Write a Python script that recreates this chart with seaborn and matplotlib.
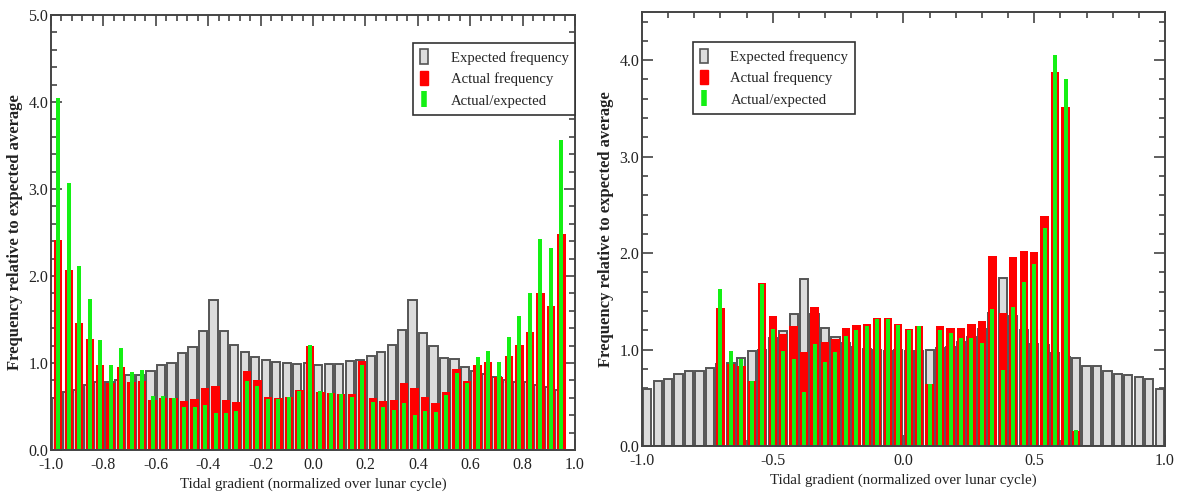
import numpy as np
import pandas as pd
import seaborn as sns
import matplotlib.pyplot as plt
from matplotlib.patches import Patch
from matplotlib.lines import Line2D
from matplotlib.ticker import MultipleLocator

sns.set_style("ticks")
plt.rcParams['font.family'] = ['Liberation Serif', 'DejaVu Serif']

# bin centres of the tidal gradient histogram (width 0.04)
bins = np.round(np.arange(-0.98, 1.0, 0.04), 2)

left_expected = [0.60, 0.67, 0.69, 0.745, 0.78, 0.78, 0.81, 0.86, 0.86, 0.91,
                 0.98, 1.00, 1.12, 1.18, 1.37, 1.72, 1.37, 1.21, 1.13, 1.07,
                 1.03, 1.01, 1.00, 0.99, 1.00, 0.98, 0.99, 0.99, 1.02, 1.03,
                 1.08, 1.13, 1.21, 1.38, 1.72, 1.35, 1.20, 1.06, 1.05, 0.95,
                 0.91, 0.87, 0.84, 0.81, 0.78, 0.78, 0.745, 0.72, 0.69, 0.0]
left_actual = [2.41, 2.07, 1.46, 1.28, 0.98, 0.77, 0.95, 0.78, 0.79, 0.57,
               0.60, 0.60, 0.56, 0.59, 0.71, 0.73, 0.58, 0.555, 0.91, 0.80,
               0.61, 0.60, 0.61, 0.69, 1.20, 0.67, 0.66, 0.64, 0.64, 1.02,
               0.60, 0.56, 0.57, 0.77, 0.71, 0.61, 0.54, 0.67, 0.93, 0.79,
               0.98, 1.01, 0.84, 1.08, 1.21, 1.36, 1.80, 1.66, 2.48, 0.0]
left_ratio = [4.05, 3.07, 2.11, 1.73, 1.26, 0.98, 1.17, 0.90, 0.92, 0.62,
              0.62, 0.60, 0.50, 0.50, 0.52, 0.42, 0.42, 0.45, 0.79, 0.74,
              0.59, 0.59, 0.61, 0.68, 1.21, 0.68, 0.65, 0.64, 0.61, 0.98,
              0.55, 0.50, 0.46, 0.54, 0.40, 0.45, 0.44, 0.63, 0.88, 0.77,
              1.07, 1.14, 1.01, 1.30, 1.54, 1.80, 2.43, 2.32, 3.56, 0.0]

right_expected = [0.59, 0.67, 0.69, 0.745, 0.78, 0.78, 0.81, 0.85, 0.86, 0.91,
                  0.99, 1.00, 1.12, 1.19, 1.37, 1.73, 1.37, 1.22, 1.13, 1.07,
                  1.03, 1.01, 1.00, 0.99, 1.00, 0.98, 0.99, 1.00, 1.02, 1.03,
                  1.08, 1.13, 1.21, 1.38, 1.74, 1.35, 1.20, 1.06, 1.05, 0.96,
                  0.92, 0.91, 0.83, 0.83, 0.78, 0.75, 0.74, 0.72, 0.69, 0.59]
right_actual = [0, 0, 0, 0, 0, 0, 0, 1.43, 0.85, 0.83,
                0.67, 1.69, 1.35, 1.16, 1.24, 0.97, 1.44, 1.08, 1.11, 1.22,
                1.25, 1.26, 1.33, 1.33, 1.26, 1.21, 1.24, 0.64, 1.24, 1.22,
                1.22, 1.26, 1.30, 1.97, 1.38, 1.96, 2.02, 2.01, 2.38, 3.88,
                3.52, 0.16, 0, 0, 0, 0, 0, 0, 0, 0]
right_ratio = [0, 0, 0, 0, 0, 0, 0, 1.63, 0.99, 0.90,
               0.67, 1.68, 1.21, 0.98, 0.90, 0.56, 1.06, 0.87, 0.97, 1.14,
               1.20, 1.24, 1.32, 1.32, 1.25, 1.20, 1.24, 0.64, 1.20, 1.17,
               1.12, 1.12, 1.07, 1.42, 0.79, 1.44, 1.70, 1.89, 2.26, 4.05,
               3.81, 0.17, 0, 0, 0, 0, 0, 0, 0, 0]

legend_labels = ['Expected frequency', 'Actual frequency', 'Actual/expected']
xlabel = 'Tidal gradient (normalized over lunar cycle)'
ylabel = 'Frequency relative to expected average'

GREY = '#dcdcdc'
EDGE = '#555555'
RED = '#ff0000'
GREEN = '#14f014'
AXC = '#444444'


def draw_panel(ax, expected, actual, ratio, shift):
    df = pd.DataFrame({'x': bins, 'exp': expected, 'act': actual, 'rat': ratio})
    e = df[df.exp > 0]
    sns.barplot(x=e.x, y=e.exp, native_scale=True, width=0.78, color=GREY,
                edgecolor=EDGE, linewidth=1.4, saturation=1, errorbar=None, ax=ax)
    a = df[df.act > 0]
    sns.barplot(x=a.x + shift, y=a.act, native_scale=True, width=0.8, color=RED,
                linewidth=0, saturation=1, errorbar=None, ax=ax)
    r = df[df.rat > 0]
    sns.barplot(x=r.x + shift, y=r.rat, native_scale=True, width=0.38, color=GREEN,
                linewidth=0, saturation=1, errorbar=None, ax=ax)
    ax.set_xlim(-1.0, 1.0)
    ax.set_xlabel(xlabel, fontsize=10.8, color='#222222', labelpad=3)
    ax.set_ylabel(ylabel, fontsize=12, fontweight='bold', color='#222222', labelpad=4)
    ax.yaxis.set_major_formatter(plt.FormatStrFormatter('%.1f'))
    ax.xaxis.set_major_formatter(plt.FormatStrFormatter('%.1f'))
    ax.yaxis.set_major_locator(MultipleLocator(1.0))
    ax.yaxis.set_minor_locator(MultipleLocator(0.2))
    ax.tick_params(which='both', direction='in', top=True, right=True,
                   colors=AXC, labelcolor='#222222', labelsize=11.5, width=1.2)
    ax.tick_params(which='major', length=8, pad=2)
    ax.tick_params(axis='x', which='major', pad=5)
    ax.tick_params(which='minor', length=4)
    for s in ax.spines.values():
        s.set_color(AXC)
        s.set_linewidth(1.4)
    handles = [Patch(facecolor=GREY, edgecolor=EDGE, linewidth=1.2),
               Patch(facecolor=RED, edgecolor=RED),
               Line2D([], [], color=GREEN, marker='|', linestyle='none',
                      markersize=12, markeredgewidth=4)]
    return handles


def add_legend(ax, handles, loc, anchor):
    leg = ax.legend(handles, legend_labels, loc=loc, bbox_to_anchor=anchor,
                    borderaxespad=0, fontsize=10.6, frameon=True, fancybox=False,
                    handlelength=0.6, handleheight=1.1, handletextpad=1.5,
                    borderpad=0.45, labelspacing=0.45, framealpha=1)
    leg.get_frame().set_edgecolor('#333333')
    leg.get_frame().set_linewidth(1.2)


fig = plt.figure(figsize=(11.82, 4.93), dpi=100)
ax1 = fig.add_axes([0.0431, 0.0872, 0.4434, 0.8824])
ax2 = fig.add_axes([0.5431, 0.0953, 0.4425, 0.8804])

h = draw_panel(ax1, left_expected, left_actual, left_ratio, 0.008)
ax1.set_ylim(0, 5.0)
ax1.xaxis.set_major_locator(MultipleLocator(0.2))
ax1.xaxis.set_minor_locator(MultipleLocator(0.04))
add_legend(ax1, h, 'upper right', (1.0, 0.936))

h = draw_panel(ax2, right_expected, right_actual, right_ratio, 0.0)
ax2.set_ylim(0, 4.5)
ax2.xaxis.set_major_locator(MultipleLocator(0.5))
ax2.xaxis.set_minor_locator(MultipleLocator(0.1))
add_legend(ax2, h, 'upper left', (0.0975, 0.931))

fig.savefig('out.png', dpi=100)
